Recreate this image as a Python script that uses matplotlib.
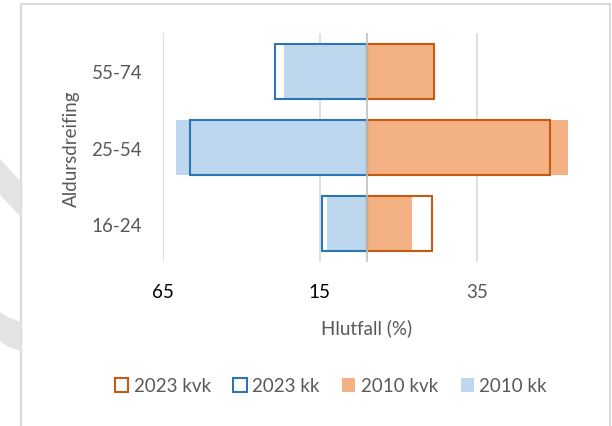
import matplotlib.pyplot as plt
from matplotlib.patches import Patch, Polygon, Rectangle

plt.rcParams['font.family'] = ['Lato', 'DejaVu Sans']

# data (%)
ages = ['16-24', '25-54', '55-74']
kk_2010 = [12.6, 60.9, 26.4]
kvk_2010 = [14.3, 64.2, 21.0]
kk_2023 = [14.2, 56.5, 29.4]
kvk_2023 = [20.7, 58.3, 21.3]

xticks = [-65, -15, 35]
xtick_colors = ['black', 'black', '#595959']

c_kk_fill = '#BDD7EE'
c_kvk_fill = '#F4B183'
c_kk_edge = '#2E75B6'
c_kvk_edge = '#C55A11'
grey = '#595959'

fig = plt.figure(figsize=(6.12, 4.27), dpi=100)

# chart border + faint watermark pieces on the left edge
fig.patches.append(Rectangle((21 / 612, -0.1), 589 / 612, 1.1 - 5 / 427,
                             transform=fig.transFigure, fill=False,
                             edgecolor='#D9D9D9', linewidth=1.5))
for pts in ([(0, 160), (21, 183), (21, 218), (0, 196)],
            [(0, 313), (8, 318), (21, 323), (21, 352), (8, 348), (0, 342)]):
    fig.patches.append(Polygon([(x / 612, 1 - y / 427) for x, y in pts],
                               transform=fig.transFigure,
                               facecolor='#E3E3E3', edgecolor='none'))

ax = fig.add_axes([163 / 612, 1 - 263 / 427, 408 / 612, 229 / 427])

y = range(len(ages))
h = 0.72
ax.barh(y, [-v for v in kk_2010], height=h, color=c_kk_fill, zorder=2)
ax.barh(y, kvk_2010, height=h, color=c_kvk_fill, zorder=2)
ax.barh(y, [-v for v in kk_2023], height=h, facecolor='none',
        edgecolor=c_kk_edge, linewidth=1.5, zorder=3)
ax.barh(y, kvk_2023, height=h, facecolor='none',
        edgecolor=c_kvk_edge, linewidth=1.5, zorder=3)

ax.axvline(0, color='#BFBFBF', linewidth=1.2, zorder=4)
for t in xticks:
    ax.axvline(t, color='#D9D9D9', linewidth=1.2, zorder=1)

ax.set_xlim(-65, 65)
ax.set_ylim(-0.5, 2.5)
ax.set_xticks(xticks)
ax.set_xticklabels([str(abs(t)) for t in xticks], fontsize=13.5)
for lab, c in zip(ax.get_xticklabels(), xtick_colors):
    lab.set_color(c)
ax.set_yticks(list(y))
ax.set_yticklabels(ages, fontsize=13.5, color=grey)
ax.tick_params(length=0)
ax.tick_params(axis='x', pad=15)
ax.tick_params(axis='y', pad=15)
for s in ax.spines.values():
    s.set_visible(False)

ax.set_xlabel('Hlutfall (%)', fontsize=13.5, color=grey)
ax.xaxis.set_label_coords(204 / 408, -0.245)
ax.set_ylabel('Aldursdreifing', fontsize=13.5, color=grey)
ax.yaxis.set_label_coords(-(163 - 80) / 408, 0.5)

handles = [
    Patch(facecolor='white', edgecolor=c_kvk_edge, linewidth=1.5, label='2023 kvk'),
    Patch(facecolor='white', edgecolor=c_kk_edge, linewidth=1.5, label='2023 kk'),
    Patch(facecolor=c_kvk_fill, edgecolor='none', label='2010 kvk'),
    Patch(facecolor=c_kk_fill, edgecolor='none', label='2010 kk'),
]
leg = fig.legend(handles=handles, loc='center', ncol=4,
                 bbox_to_anchor=(331 / 612, 1 - 387 / 427), frameon=False,
                 fontsize=13.5, handlelength=0.7, handleheight=0.7,
                 handletextpad=0.3, columnspacing=1.2)
for t in leg.get_texts():
    t.set_color(grey)

fig.savefig('out.png', dpi=100)
